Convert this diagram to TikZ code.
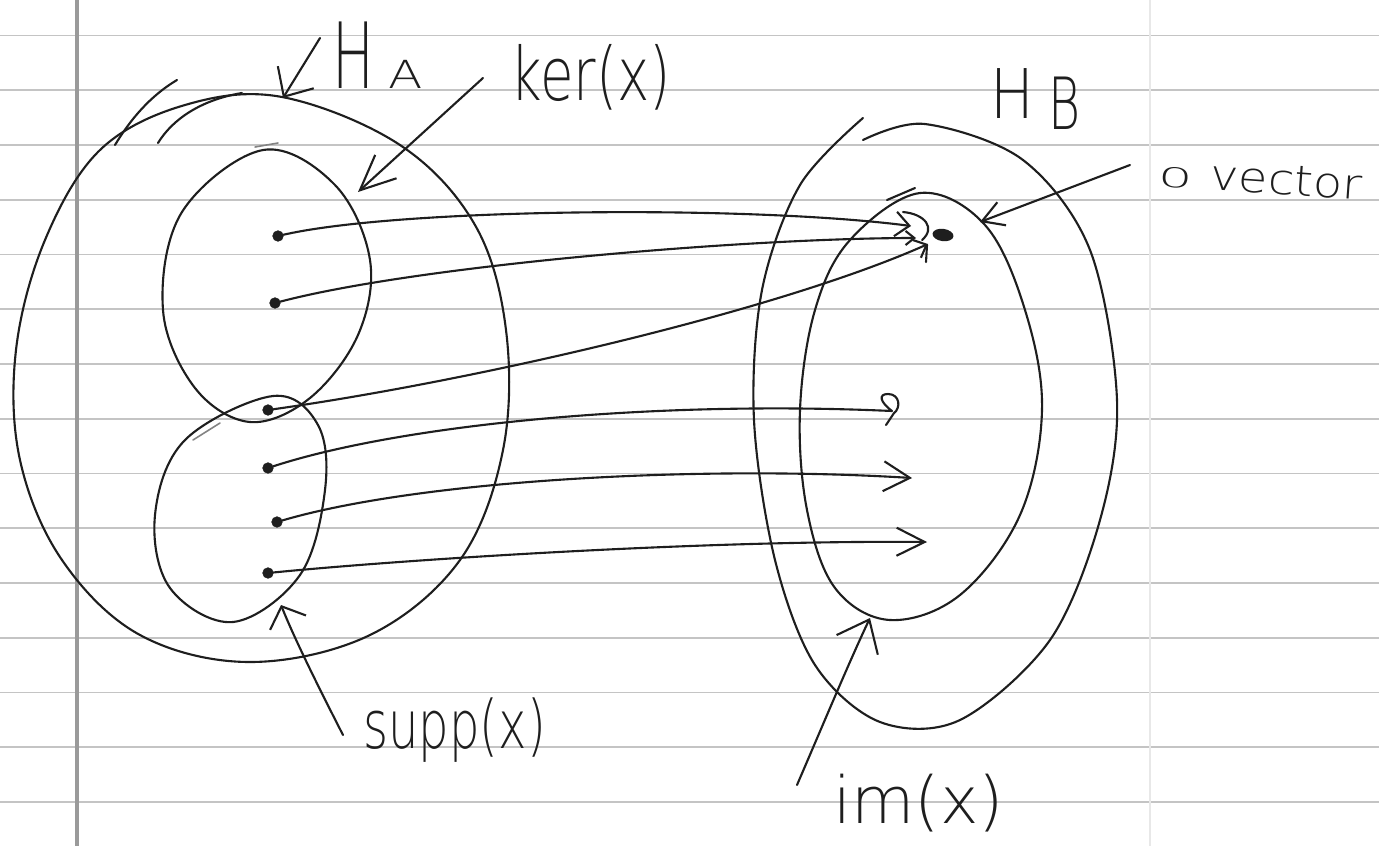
\documentclass[tikz,border=0pt]{standalone}
\usepackage{fontspec}
\setmainfont{DejaVu Sans}
\newfontfamily\handfont{DejaVu Sans ExtraLight}
\usetikzlibrary{arrows.meta,shapes.geometric}
\definecolor{inkc}{HTML}{1E1E1E}
\definecolor{rulec}{HTML}{C4C4C4}
\definecolor{marginc}{HTML}{9A9A9A}
% hand-lettered label: horizontal squeeze, font size, text
\newcommand{\handtext}[3]{\scalebox{#1}[1]{\handfont\fontsize{#2}{#2}\selectfont #3}}

\begin{document}
\begin{tikzpicture}[x=0.02cm, y=-0.02cm,
  ink/.style={draw=inkc, line width=1.2pt, line cap=round, line join=round},
  faint/.style={draw=inkc!55, line width=0.9pt, line cap=round},
  rule/.style={draw=rulec, line width=1.1pt},
  vecdot/.style={circle, fill=inkc, draw=inkc, inner sep=0pt, minimum size=6pt},
  zerodot/.style={ellipse, fill=inkc, inner sep=0pt, minimum width=12pt, minimum height=7pt, rotate=-8},
  lbl/.style={inner sep=0pt, text=inkc, anchor=base west}
]
% ---- lined paper ----
\fill[white] (0,0) rectangle (1379,846);
\useasboundingbox (0,0) rectangle (1379,846);
\foreach \k in {0,...,14}
  \draw[rule] (0,{35.5+54.75*\k}) -- (1379,{35.5+54.75*\k});
\draw[marginc, line width=2.6pt] (77,0) -- (77,846);
\draw[black!9, line width=0.8pt] (1150,0) -- (1150,846);

% ---- H_A : outer region ----
\draw[ink] plot[smooth cycle, tension=0.6] coordinates {
  (282,97) (400,145) (475,225) (506,330) (503,450) (460,560) (370,635)
  (250,662) (140,635) (62,560) (20,460) (16,350) (45,240) (100,150) (185,105)};
\draw[ink] (115,145) .. controls (130,120) and (150,96) .. (177,80);
\draw[ink] (158,143) .. controls (172,120) and (200,100) .. (242,93);

% ---- ker(x) region ----
\draw[ink] plot[smooth cycle, tension=0.6] coordinates {
  (263,150) (335,185) (370,260) (358,335) (310,398) (250,422) (195,388)
  (163,310) (182,212)};
\draw[faint] (255,147) -- (278,143);

% ---- supp(x) region ----
\draw[ink] plot[smooth cycle, tension=0.6] coordinates {
  (273,396) (318,425) (325,490) (300,575) (233,622) (170,588) (155,515) (185,440)};
\draw[faint] (193,440) -- (220,423);

% ---- H_B : outer region ----
\draw[ink] plot[smooth, tension=0.55] coordinates {
  (863,140) (925,124) (1023,160) (1090,250) (1117,400) (1100,520) (1050,640)
  (960,720) (880,722) (815,665) (775,560) (754,420) (762,290) (800,185) (863,118)};

% ---- im(x) region ----
\draw[ink] plot[smooth cycle, tension=0.6] coordinates {
  (920,193) (985,225) (1025,310) (1042,410) (1020,515) (960,595) (890,620)
  (835,588) (807,510) (800,410) (815,310) (850,240)};
\draw[ink] (887,200) -- (915,188);

% ---- vectors of H_A ----
\node[vecdot] (d1) at (278,236) {};
\node[vecdot] (d2) at (275,303) {};
\node[vecdot] (d3) at (268,410) {};
\node[vecdot] (d4) at (268,468) {};
\node[vecdot] (d5) at (277,522) {};
\node[vecdot] (d6) at (268,573) {};

% ---- zero vector of H_B ----
\node[zerodot] (z) at (943,235) {};

% ---- arrow tips inside H_B ----
\coordinate (t1) at (911,226);
\coordinate (t2) at (916,238);
\coordinate (t3) at (928,244);
\coordinate (t4) at (892,411);
\coordinate (t5) at (912,478);
\coordinate (t6) at (927,542);

% ---- the map x ----
\draw[ink, -{Straight Barb[length=8pt, width=14pt]}] (d1) .. controls (400,208) and (750,205) .. (t1);
\draw[ink, -{Straight Barb[length=5pt, width=8pt]}] (d2) .. controls (420,265) and (750,238) .. (t2);
\draw[ink, -{Straight Barb[length=6pt, width=11pt]}] (d3) .. controls (480,380) and (780,310) .. (t3);
\draw[ink] (d4) .. controls (400,425) and (650,400) .. (t4)
  .. controls (880,402) and (878,394) .. (888,394)
  .. controls (900,394) and (901,408) .. (894,413) -- (886,425);
\draw[ink, -{Straight Barb[length=15pt, width=17pt]}] (d5) .. controls (420,480) and (700,465) .. (t5);
\draw[ink, -{Straight Barb[length=16pt, width=16pt]}] (d6) .. controls (400,560) and (700,540) .. (t6);
% scribbles around the zero vector
\draw[ink] (903,212) .. controls (925,214) and (936,228) .. (922,240);
\draw[ink] (927,245) -- (926,262);

% ---- labels ----
\node[lbl] (HA) at (332,88) {\handtext{0.61}{52pt}{H}\hspace{8pt}\handtext{1.3}{22pt}{A}};
\node[lbl] (ker) at (510,100) {\handtext{0.74}{42pt}{ker(x)}};
\node[lbl] (HB) at (990,118) {\handtext{0.85}{39pt}{H}\hspace{8pt}\raisebox{-6.8pt}{\handtext{0.68}{41pt}{B}}};
\node[lbl, rotate=-4] (zv) at (1157,186) {\handtext{2.0}{15.5pt}{0}\hspace{10pt}\handtext{1.14}{24pt}{vector}};
\node[lbl] (supp) at (363,748) {\handtext{0.72}{38pt}{supp(x)}};
\node[lbl] (imx) at (833,823) {\handtext{1.0}{37pt}{im(x)}};

% ---- pointers from labels ----
\coordinate (pHA) at (320,38);   \coordinate (qHA) at (283,98);
\coordinate (pker) at (483,78);  \coordinate (qker) at (358,192);
\coordinate (pzv) at (1130,165); \coordinate (qzv) at (980,222);
\coordinate (psupp) at (343,735); \coordinate (qsupp) at (281,605);
\coordinate (pim) at (797,785);  \coordinate (qim) at (870,618);
\draw[ink, -{Straight Barb[length=13pt, width=24pt]}] (pHA) -- (qHA);
\draw[ink, -{Straight Barb[length=20pt, width=18pt]}] (pker) -- (qker);
\draw[ink, -{Straight Barb[length=12pt, width=14pt]}] (pzv) -- (qzv);
\draw[ink, -{Straight Barb[length=10pt, width=22pt]}] (psupp) .. controls (320,690) and (295,640) .. (qsupp);
\draw[ink, -{Straight Barb[length=16pt, width=26pt]}] (pim) .. controls (825,720) and (850,660) .. (qim);
\end{tikzpicture}
\end{document}
